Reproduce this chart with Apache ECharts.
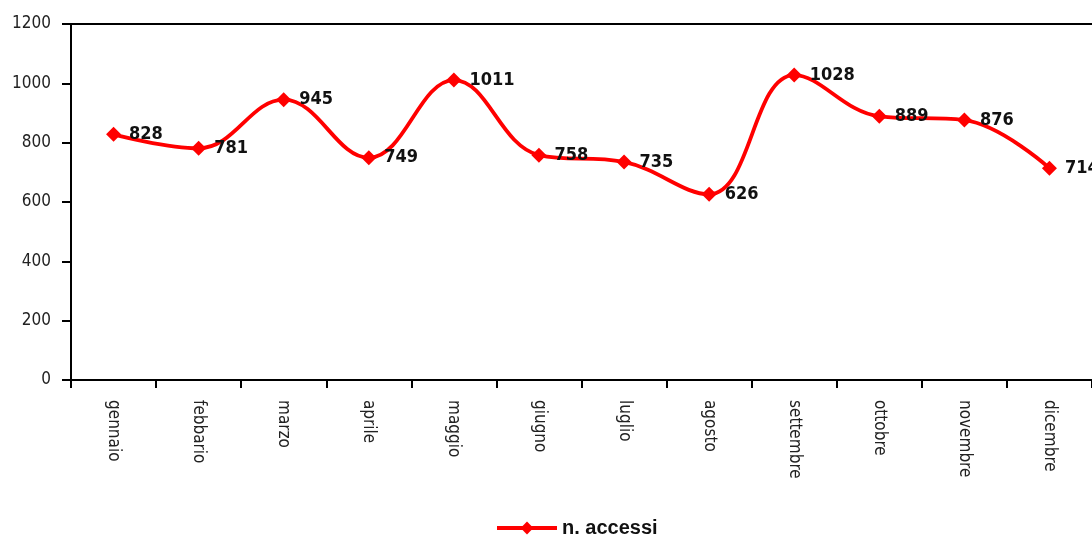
<!DOCTYPE html>
<html><head><meta charset="utf-8">
<script src="https://cdn.jsdelivr.net/npm/echarts@6/dist/echarts.min.js"></script>
<style>html,body{margin:0;padding:0;background:#fff}#c{width:1092px;height:540px}</style>
</head><body><div id="c"></div>
<script>
const categories = ['gennaio','febbario','marzo','aprile','maggio','giugno','luglio','agosto','settembre','ottobre','novembre','dicembre'];
const accessi = [828, 781, 945, 749, 1011, 758, 735, 626, 1028, 889, 876, 714];
const seriesName = 'n. accessi';
const narrow = "'Liberation Sans Narrow', 'DejaVu Sans Condensed', sans-serif";
const chart = echarts.init(document.getElementById('c'), null, {renderer:'canvas'});
chart.setOption({
  animation: false,
  grid: {left: 71, top: 24, right: -5, bottom: 160, containLabel: false, show: false},
  legend: {
    top: 513, left: 490, data: [seriesName], itemWidth: 60, itemHeight: 16, itemGap: 4,
    lineStyle: {width: 4, color: '#ff0000'},
    textStyle: {fontFamily: "'Liberation Sans', Arial, sans-serif", fontWeight: 'bold', fontSize: 20, color: '#111'}
  },
  xAxis: {
    type: 'category', data: categories, boundaryGap: true,
    axisLine: {lineStyle: {color: '#000', width: 2}},
    axisTick: {show: true, length: 8, lineStyle: {color: '#000', width: 2}, alignWithLabel: false},
    axisLabel: {rotate: -90, fontFamily: narrow, fontSize: 17, color: '#222', margin: 20, interval: 0}
  },
  yAxis: {
    type: 'value', min: 0, max: 1200, interval: 200,
    axisLine: {show: true, lineStyle: {color: '#000', width: 2}},
    axisTick: {show: true, length: 9, inside: false, lineStyle: {color: '#000', width: 2}},
    splitLine: {show: false},
    axisLabel: {fontFamily: narrow, fontSize: 17, color: '#222', margin: 20, formatter: v => String(v)}
  },
  series: [{
    name: seriesName, type: 'line', data: accessi, smooth: 0.4,
    symbol: 'diamond', symbolSize: 15,
    lineStyle: {color: '#ff0000', width: 3.8},
    itemStyle: {color: '#ff0000'},
    label: {show: true, position: 'right', distance: 8, fontFamily: narrow, fontWeight: 'bold', fontSize: 18, color: '#111'}
  }],
  graphic: [{type: 'line', shape: {x1: 71, y1: 24, x2: 1092, y2: 24}, style: {stroke: '#000', lineWidth: 2}}]
});
</script></body></html>
